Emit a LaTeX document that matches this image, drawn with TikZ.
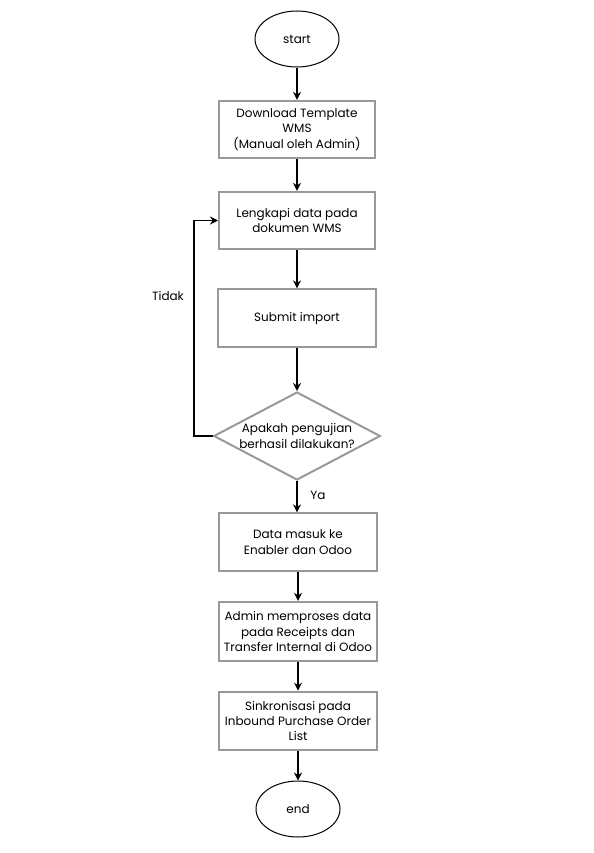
\documentclass[tikz,border=0pt]{standalone}
\usepackage{fontspec}
\setmainfont{Poppins}
\usetikzlibrary{shapes.geometric,arrows.meta}
\definecolor{boxgray}{HTML}{999999}
\begin{document}
\begin{tikzpicture}[x=0.75pt,y=-0.75pt,
  every node/.style={font=\fontsize{9}{11.6}\selectfont, align=center, text=black},
  procbox/.style={draw=boxgray, line width=1.5pt, rectangle, minimum width=117pt, minimum height=43pt, inner sep=2pt},
  term/.style={draw=black, line width=0.75pt, ellipse, minimum width=63pt, minimum height=42pt, inner sep=0pt},
  decis/.style={draw=boxgray, line width=1.5pt, diamond, aspect=1.89, minimum width=125pt, minimum height=66pt, inner sep=0pt},
  flow/.style={draw=black, line width=1.1pt, -{Stealth[length=6pt,width=6pt]}},
  lbl/.style={font=\fontsize{9}{11}\selectfont}]
\useasboundingbox (0,0) rectangle (593,853);
\node[term] (start) at (297,39) {start};
\node[procbox] (b1) at (297,129.5) {Download Template\\WMS\\(Manual oleh Admin)};
\node[procbox] (b2) at (297,220.5) {Lengkapi data pada\\dokumen WMS};
\node[procbox, minimum width=118.5pt] (b3) at (297,318) {Submit import};
\node[decis] (dec) at (297,436) {Apakah pengujian\\berhasil dilakukan?};
\node[procbox, minimum width=118.5pt] (b4) at (298,542) {Data masuk ke\\Enabler dan Odoo};
\node[procbox, minimum width=118.5pt, minimum height=44.5pt] (b5) at (298,631.5) {Admin memproses data\\pada Receipts dan\\Transfer Internal di Odoo};
\node[procbox, minimum width=118.5pt, minimum height=44pt] (b6) at (298,721) {Sinkronisasi pada\\Inbound Purchase Order\\List};
\node[term] (end) at (298,809) {end};
\coordinate (loopc) at (194,300);
\node[lbl] (tidak) at (168,296) {Tidak};
\node[lbl] (ya) at (318,495) {Ya};
\draw[flow] (start) -- (b1);
\draw[flow] (b1) -- (b2);
\draw[flow] (b2) -- (b3);
\draw[flow] (b3) -- (dec);
\draw[flow] (dec.south) -- (dec.south |- b4.north);
\draw[flow] (dec.west) -| (loopc) |- (b2.west);
\draw[flow] (b4) -- (b5);
\draw[flow] (b5) -- (b6);
\draw[flow] (b6) -- (end);
\end{tikzpicture}
\end{document}
